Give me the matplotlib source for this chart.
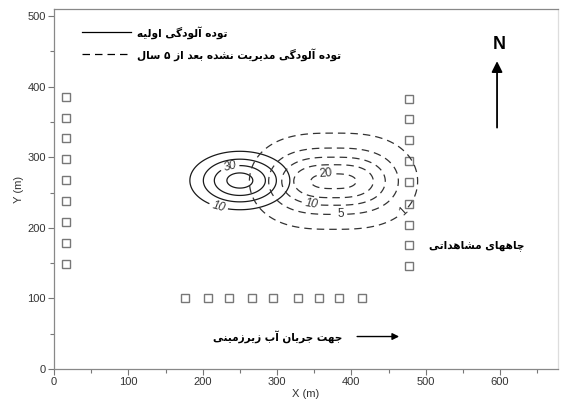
import numpy as np
import matplotlib
matplotlib.use("Agg")
import matplotlib.pyplot as plt
from matplotlib.ticker import MultipleLocator

plt.rcParams['font.family'] = ['Liberation Sans', 'DejaVu Sans']

# ---- observation wells (m) ----
left_wells_x = [16] * 9
left_wells_y = [149, 178, 208, 238, 268, 297, 327, 356, 386]
right_wells_x = [478] * 9
right_wells_y = [146, 175, 204, 234, 265, 295, 324, 354, 383]
bottom_wells_x = [176, 207, 236, 266, 295, 328, 356, 384, 414]
bottom_wells_y = [100] * 9

# ---- plume descriptions ----
# initial plume: peak concentration, centre and spread
initial_peak, initial_xc, initial_yc = 44.2, 250, 267
initial_sx, initial_sy = 39, 24
initial_levels = [10, 20, 30, 40]

# unmanaged plume after 5 years
later_peak, later_xc, later_yc = 21.5, 376, 266
later_sx, later_sy, later_px = 60, 27.5, 2.86
later_levels = [1, 5, 10, 15, 20]

# ---- text ----
label_initial = "توده آلودگی اولیه"
label_later = "توده آلودگی مدیریت نشده بعد از ۵ سال"
label_wells = "چاههای مشاهداتی"
label_flow = "جهت جریان آب زیرزمینی"

# presentation forms: (isolated, final, initial, medial)
ARABIC_FORMS = {
    '\u0622': ('\uFE81', '\uFE82', None, None),
    '\u0627': ('\uFE8D', '\uFE8E', None, None),
    '\u0628': ('\uFE8F', '\uFE90', '\uFE91', '\uFE92'),
    '\u062A': ('\uFE95', '\uFE96', '\uFE97', '\uFE98'),
    '\u062C': ('\uFE9D', '\uFE9E', '\uFE9F', '\uFEA0'),
    '\u062F': ('\uFEA9', '\uFEAA', None, None),
    '\u0631': ('\uFEAD', '\uFEAE', None, None),
    '\u0632': ('\uFEAF', '\uFEB0', None, None),
    '\u0633': ('\uFEB1', '\uFEB2', '\uFEB3', '\uFEB4'),
    '\u0634': ('\uFEB5', '\uFEB6', '\uFEB7', '\uFEB8'),
    '\u0639': ('\uFEC9', '\uFECA', '\uFECB', '\uFECC'),
    '\u0644': ('\uFEDD', '\uFEDE', '\uFEDF', '\uFEE0'),
    '\u0645': ('\uFEE1', '\uFEE2', '\uFEE3', '\uFEE4'),
    '\u0646': ('\uFEE5', '\uFEE6', '\uFEE7', '\uFEE8'),
    '\u0647': ('\uFEE9', '\uFEEA', '\uFEEB', '\uFEEC'),
    '\u0648': ('\uFEED', '\uFEEE', None, None),
    '\u0686': ('\uFB7A', '\uFB7B', '\uFB7C', '\uFB7D'),
    '\u06AF': ('\uFB92', '\uFB93', '\uFB94', '\uFB95'),
    '\u06CC': ('\uFBFC', '\uFBFD', '\uFBFE', '\uFBFF'),
}


def shape_rtl(text):
    """Join Persian letters into contextual forms and order them for display."""
    out = []
    n = len(text)
    for i, ch in enumerate(text):
        forms = ARABIC_FORMS.get(ch)
        if forms is None:
            out.append(ch)
            continue
        prev = ARABIC_FORMS.get(text[i - 1]) if i > 0 else None
        nxt = ARABIC_FORMS.get(text[i + 1]) if i < n - 1 else None
        join_prev = prev is not None and prev[2] is not None
        join_next = forms[2] is not None and nxt is not None
        if join_prev and join_next:
            out.append(forms[3])
        elif join_prev:
            out.append(forms[1])
        elif join_next:
            out.append(forms[2])
        else:
            out.append(forms[0])
    return ''.join(reversed(out))


fa_font = dict(family=['DejaVu Sans'], fontweight='bold', fontsize=7.6, color='black')

fig = plt.figure(figsize=(5.68, 4.08), dpi=100)
ax = fig.add_axes([0.0951, 0.0956, 0.8873, 0.8824])

# ---- wells (drawn under the contours) ----
well_style = dict(linestyle='none', marker='s', markersize=6.3, markerfacecolor='white',
                  markeredgecolor='#777777', markeredgewidth=1.0, zorder=1)
ax.plot(left_wells_x, left_wells_y, **well_style)
ax.plot(right_wells_x, right_wells_y, **well_style)
ax.plot(bottom_wells_x, bottom_wells_y, **well_style)

# ---- concentration fields ----
gx = np.linspace(0, 680, 600)
gy = np.linspace(0, 510, 500)
X, Y = np.meshgrid(gx, gy)
C0 = initial_peak * np.exp(-0.5 * (((X - initial_xc) / initial_sx) ** 2 +
                                    ((Y - initial_yc) / initial_sy) ** 2))
C5 = later_peak * np.exp(-0.5 * (np.abs((X - later_xc) / later_sx) ** later_px +
                                  ((Y - later_yc) / later_sy) ** 2))

cs0 = ax.contour(X, Y, C0, levels=initial_levels, colors='#1a1a1a', linewidths=0.9,
                 zorder=3)
cs5 = ax.contour(X, Y, C5, levels=later_levels, colors='#333333', linewidths=0.9,
                 linestyles=[(0, (6, 4))], zorder=3)

t0 = ax.clabel(cs0, fmt='%d', fontsize=8.5, inline=True,
               inline_spacing=3, manual=[(236, 289), (220, 225)])
t5 = ax.clabel(cs5, fmt='%d', fontsize=8.5, inline=True,
               inline_spacing=3, manual=[(366, 277), (346, 233), (386, 216), (465, 229)])
for t in list(t0) + list(t5):
    t.set_color('#333333')
    if t.get_text() in ('10', '30'):
        t.set_style('italic')

# ---- legend ----
ax.plot([37, 104], [477, 477], color='black', lw=0.9)
ax.plot([37, 104], [446, 446], color='black', lw=0.9, linestyle=(0, (6, 4)))
ax.text(112, 477, shape_rtl(label_initial), ha='left', va='center', **fa_font)
ax.text(112, 446, shape_rtl(label_later), ha='left', va='center', **fa_font)

# ---- annotations ----
ax.text(505, 175, shape_rtl(label_wells), ha='left', va='center', **fa_font)
ax.text(214, 46, shape_rtl(label_flow), ha='left', va='center', **fa_font)
ax.annotate('', xy=(468, 46), xytext=(404, 46),
            arrowprops=dict(arrowstyle='-|>', color='black', lw=1.0, mutation_scale=10))
ax.annotate('', xy=(596, 440), xytext=(596, 338),
            arrowprops=dict(arrowstyle='-|>', color='black', lw=1.3, mutation_scale=16))
ax.text(599, 459, 'N', ha='center', va='center', fontsize=13, fontweight='bold')

# ---- axes ----
ax.set_xlim(0, 678)
ax.set_ylim(0, 510)
ax.xaxis.set_major_locator(MultipleLocator(100))
ax.xaxis.set_minor_locator(MultipleLocator(50))
ax.yaxis.set_major_locator(MultipleLocator(100))
ax.yaxis.set_minor_locator(MultipleLocator(50))
ax.tick_params(which='major', direction='out', length=4, width=0.8, color='#777777',
               labelsize=8, labelcolor='#333333', pad=2)
ax.tick_params(which='minor', direction='out', length=3, width=0.8, color='#777777')
ax.tick_params(top=False, right=False, which='both')
for side, sp in ax.spines.items():
    sp.set_color('#888888')
    sp.set_linewidth(0.9)
ax.spines['right'].set_color('#dddddd')
ax.set_xlabel('X (m)', fontsize=8, color='#333333', labelpad=1)
ax.set_ylabel('Y (m)', fontsize=8, color='#333333', labelpad=2)

fig.savefig('out.png', dpi=100)
